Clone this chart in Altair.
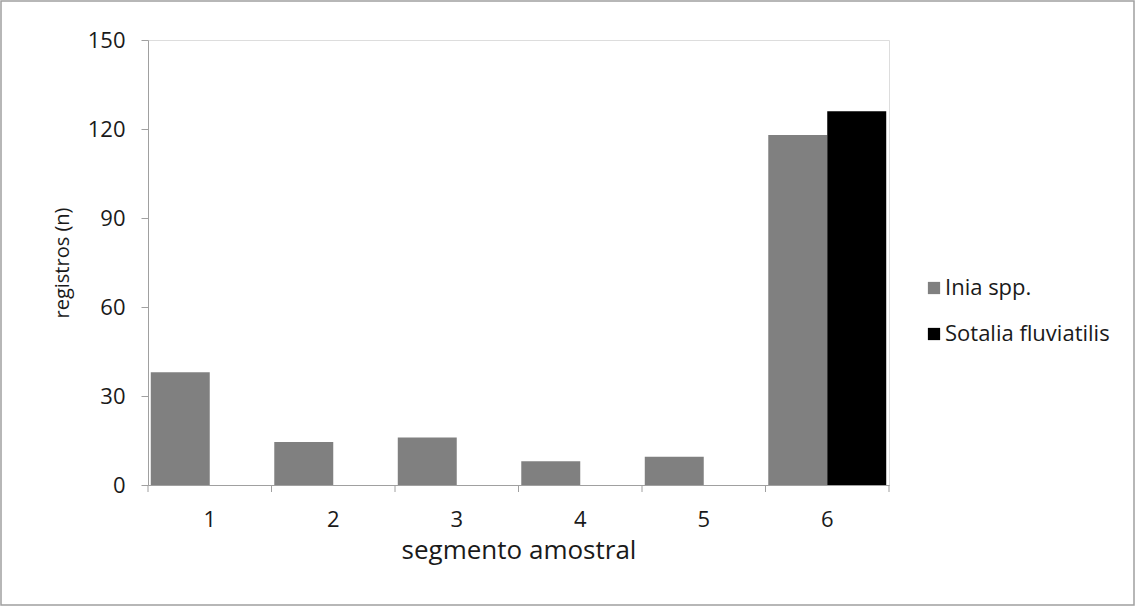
import altair as alt
import pandas as pd

segments = ["1", "2", "3", "4", "5", "6"]
inia = [38, 14.5, 16, 8, 9.5, 118]
sotalia = [0, 0, 0, 0, 0, 126]
species = ["Inia spp.", "Sotalia fluviatilis"]
colors = ["#808080", "#000000"]
y_ticks = [0, 30, 60, 90, 120, 150]

rows = []
for s, a, b in zip(segments, inia, sotalia):
    rows.append({"seg": s, "sp": species[0], "n": a})
    rows.append({"seg": s, "sp": species[1], "n": b})
df = pd.DataFrame(rows)
bounds = pd.DataFrame({"seg": segments})

W, H = 741, 445
FONT = "Open Sans"
AX = "#a0a0a0"
TXT = "#1a1a1a"

xscale = alt.Scale(domain=segments, paddingInner=0, paddingOuter=0)

bars = alt.Chart(df).mark_bar().encode(
    x=alt.X("seg:N", scale=xscale, sort=segments,
            axis=alt.Axis(title="segmento amostral", labelAngle=0, ticks=False,
                          labelPadding=24, labelFontSize=22, titleFontSize=26,
                          titlePadding=7, domainColor=AX, labelColor=TXT,
                          titleColor=TXT, titleFontWeight="normal")),
    xOffset=alt.XOffset("sp:N", sort=species,
                        scale=alt.Scale(paddingInner=0, paddingOuter=0.047)),
    y=alt.Y("n:Q", scale=alt.Scale(domain=[0, 150], nice=False),
            axis=alt.Axis(title="registros (n)", values=y_ticks, grid=False,
                          tickSize=7, tickColor=AX, domainColor=AX,
                          labelPadding=16, labelFontSize=22, titleFontSize=20,
                          titlePadding=15, labelColor=TXT, titleColor=TXT,
                          titleFontWeight="normal")),
    color=alt.Color("sp:N", sort=species,
                    scale=alt.Scale(domain=species, range=colors),
                    legend=alt.Legend(title=None, orient="none", legendX=775,
                                      legendY=237, symbolType="square",
                                      symbolSize=150, symbolStrokeWidth=0,
                                      labelFontSize=22, labelColor=TXT,
                                      labelLimit=0, rowPadding=24,
                                      labelOffset=0)),
)

ticks_left = alt.Chart(bounds).mark_rule(color=AX).encode(
    x=alt.X("seg:N", scale=xscale, sort=segments, bandPosition=0),
    y=alt.value(H), y2=alt.value(H + 7),
)
ticks_right = alt.Chart(bounds[bounds.seg == segments[-1]]).mark_rule(color=AX).encode(
    x=alt.X("seg:N", scale=xscale, sort=segments, bandPosition=1),
    y=alt.value(H), y2=alt.value(H + 7),
)
frame = alt.Chart(bounds.head(1)).mark_rect(
    fill=None, stroke="#a0a0a0", strokeWidth=1.5, clip=False
).encode(
    x=alt.value(-147), x2=alt.value(W + 245),
    y=alt.value(-39), y2=alt.value(H + 120),
)

chart = alt.layer(bars, ticks_left, ticks_right, frame).properties(
    width=W, height=H,
    autosize=alt.AutoSizeParams(type="none"),
    padding={"left": 148, "top": 40, "right": 246, "bottom": 121},
    background="white",
).configure_view(stroke=None).configure(font=FONT)

chart.save("out.html", embed_options={"renderer": "svg", "actions": False})
